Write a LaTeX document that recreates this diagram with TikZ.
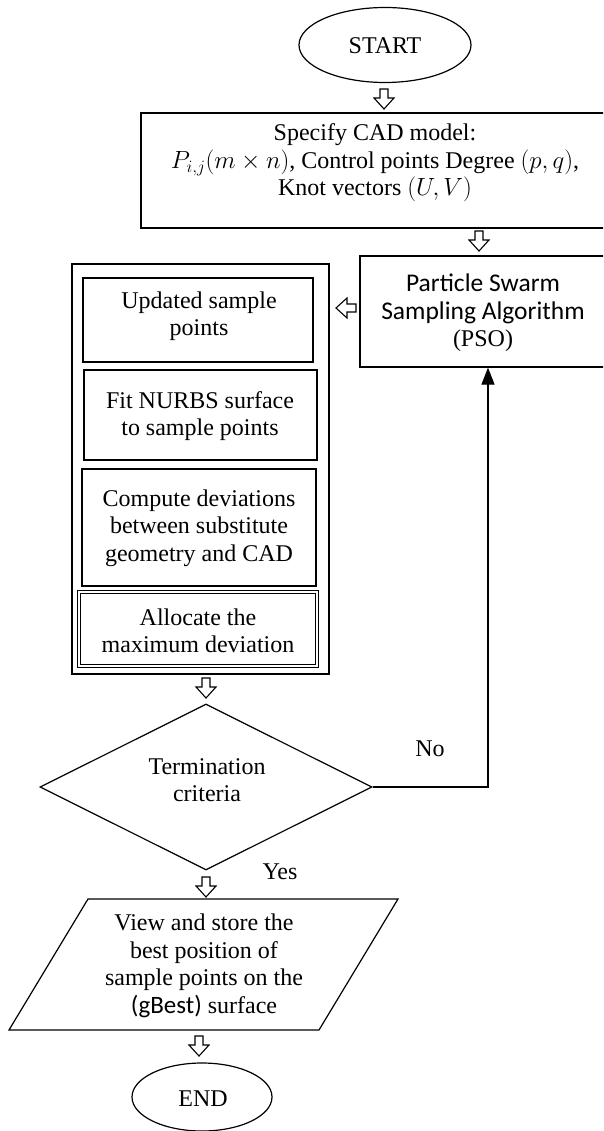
\documentclass[tikz,border=0pt]{standalone}
\usepackage{fontspec}
\setmainfont{Liberation Serif}
\newfontfamily\calib{Carlito}
\usetikzlibrary{shapes.geometric,arrows.meta}
\begin{document}
\begin{tikzpicture}[x=1pt,y=-1pt,
  every node/.style={font=\fontsize{24}{27.5}\selectfont},
  box/.style={draw, line width=1.2pt, inner sep=0pt, align=center},
  txt/.style={align=center, inner sep=0pt},
  oval/.style={draw, ellipse, line width=1.2pt, inner sep=0pt},
  blk/.style={draw, line width=1.1pt, fill=white, line join=miter},
  flow/.style={line width=1.2pt},
  pics/bdown/.style={code={\path[blk] (-4,0) -- (4,0) -- (4,9) -- (10,9) -- (0,20) -- (-10,9) -- (-4,9) -- cycle;}},
  pics/bleft/.style={code={\path[blk] (0,-4) -- (0,4) -- (-9,4) -- (-9,10) -- (-20,0) -- (-9,-10) -- (-9,-4) -- cycle;}}
]
\useasboundingbox (0,0) rectangle (603,1131);
\clip (0,0) rectangle (603,1131);
\fill[white] (0,0) rectangle (603,1131);

% START
\node[oval, minimum width=172pt, minimum height=75pt] (start) at (385,45) {};
\node[txt] (starttxt) at (385,46) {START};

% CAD box
\node[box, minimum width=468pt, minimum height=115pt] (cad) at (375,170.5) {};
\node[txt] (cadtxt) at (375,163) {Specify CAD model:\\
  $P_{i,j}(m\times n)$,\ Control points Degree $(p,q)$,\\
  Knot vectors $(U,V)$};

% PSO box
\node[box, minimum width=246pt, minimum height=111pt] (pso) at (483,311.5) {};
\node[txt] (psotxt) at (483,313) {{\calib\fontsize{25.5}{29.5}\selectfont Particle Swarm}\\
  {\calib\fontsize{25.5}{29.5}\selectfont Sampling Algorithm}\\(PSO)};

% Outer group box
\node[draw, line width=2.4pt, minimum width=257pt, minimum height=410pt, inner sep=0pt] (group) at (200.5,469) {};

\node[box, minimum width=230pt, minimum height=84pt] (upd) at (198,320) {};
\node[txt] (updtxt) at (199,316) {Updated sample\\points};

\node[box, minimum width=233pt, minimum height=90pt] (fit) at (200.5,415) {};
\node[txt] (fittxt) at (200,416) {Fit NURBS surface\\to sample points};

\node[box, minimum width=234pt, minimum height=117pt] (comp) at (199,527.5) {};
\node[txt] (comptxt) at (199,528) {Compute deviations\\between substitute\\geometry and CAD};

\node[draw, double, double distance=1.6pt, line width=0.8pt, inner sep=0pt,
      minimum width=238pt, minimum height=74pt] (alloc) at (198,629) {};
\node[txt] (alloctxt) at (198,631) {Allocate the\\maximum deviation};

% Decision
\node[draw, diamond, line width=1.2pt, inner sep=0pt, minimum width=332pt, minimum height=166pt] (dia) at (206,787) {};
\node[txt] (diatxt) at (207,780) {Termination\\criteria};

% Output parallelogram
\coordinate (p1) at (88,899);
\coordinate (p2) at (398,899);
\coordinate (p3) at (319,1030);
\coordinate (p4) at (9,1030);
\draw[flow] (p1) -- (p2) -- (p3) -- (p4) -- cycle;
\node[txt] (view) at (204,966) {View and store the\\best position of\\sample points on the\\{\calib\fontsize{25}{27.5}\selectfont(gBest)} surface};

% END
\node[oval, minimum width=140pt, minimum height=68pt] (end) at (202,1097) {};
\node[txt] (endtxt) at (203,1099) {END};

% Block arrows
\pic (a1) at (384,89) {bdown};
\pic (a2) at (479,231) {bdown};
\pic (a3) at (356,308) {bleft};
\pic (a4) at (206,678) {bdown};
\pic (a5) at (206,877) {bdown};
\pic (a6) at (199,1036) {bdown};

% No loop
\coordinate (c1) at (488,787);
\draw[flow, -{Triangle[length=17pt,width=13pt]}] (dia.east) -- (c1) -- (c1 |- pso.south);
\node[txt] (no) at (430,749) {No};
\node[txt] (yes) at (280,872) {Yes};
\end{tikzpicture}
\end{document}
